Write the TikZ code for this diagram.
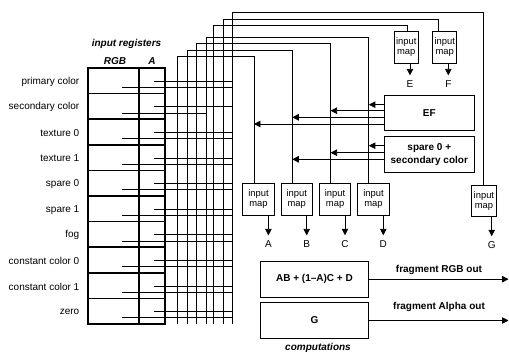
\documentclass[tikz,border=0pt]{standalone}
\usepackage{fontspec}
\setmainfont{Liberation Sans}
\usetikzlibrary{arrows.meta}
\begin{document}
\begin{tikzpicture}[x=1pt,y=-1pt,
  every node/.style={font=\fontsize{10}{11}\selectfont},
  wire/.style={line width=0.8pt},
  regline/.style={line width=1.5pt},
  tip/.style={-{Triangle[length=6.5pt,width=6.5pt]}},
  mapbox/.style={draw,line width=0.9pt,inner sep=0pt,align=center,font=\fontsize{9.4}{10}\selectfont},
  opbox/.style={draw,line width=0.9pt,inner sep=0pt,align=center,font=\bfseries\fontsize{10}{12.5}\selectfont},
  hdr/.style={font=\bfseries\itshape\fontsize{10}{11}\selectfont},
  rowlab/.style={anchor=east,inner sep=0pt},
  iolab/.style={inner sep=0pt},
  outlab/.style={font=\bfseries\fontsize{10}{11}\selectfont}
]
\useasboundingbox (0,0) rectangle (509,352);

% input register table
\draw[regline] (88,68) rectangle (165,324);
\draw[regline] (139,68) -- (139,324);
\foreach \i in {1,...,9} \draw[regline] (88,68+25.6*\i) -- (165,68+25.6*\i);

\node[hdr] (hreg) at (126.5,44) {input registers};
\node[hdr] (hrgb) at (115,61.5) {RGB};
\node[hdr] (ha) at (152,61.5) {A};

\foreach \t [count=\i from 0] in {primary color,secondary color,texture 0,texture 1,spare 0,spare 1,fog,constant color 0,constant color 1,zero}
  \node[rowlab] (r\i) at (79.5,68+25.6*\i+13.8) {\t};

% register wires
\foreach \i/\xe in {0/232.7,1/206.7,2/232.7,3/232.7,4/232.7,5/232.7,6/232.7,7/232.7,8/232.7,9/232.7}{
  \draw[wire] (154,68+25.6*\i+13.2) -- (232.7,68+25.6*\i+13.2);
  \draw[wire] (122,68+25.6*\i+19.4) -- (\xe,68+25.6*\i+19.4);
}

% input map boxes
\node[mapbox,minimum width=31.6pt,minimum height=32.6pt] (mA) at (258.5,199.4) {input\\map};
\node[mapbox,minimum width=31.6pt,minimum height=32.6pt] (mB) at (296.8,199.4) {input\\map};
\node[mapbox,minimum width=31.6pt,minimum height=32.6pt] (mC) at (335.1,199.4) {input\\map};
\node[mapbox,minimum width=31.6pt,minimum height=32.6pt] (mD) at (373.5,199.4) {input\\map};
\node[mapbox,minimum width=24pt,minimum height=31.6pt] (mE) at (406.3,47.5) {input\\map};
\node[mapbox,minimum width=24pt,minimum height=31.6pt] (mF) at (444.7,47.5) {input\\map};
\node[mapbox,minimum width=25.7pt,minimum height=31.7pt] (mG) at (483.9,200.9) {input\\map};

% attach points on box tops
\coordinate (tA) at ([xshift=11.7pt]mA.north west);
\coordinate (tB) at ([xshift=11.7pt]mB.north west);
\coordinate (tC) at ([xshift=11.7pt]mC.north west);
\coordinate (tD) at ([xshift=11.6pt]mD.north west);
\coordinate (tE) at ([xshift=13.4pt]mE.north west);
\coordinate (tF) at ([xshift=6.3pt]mF.north west);
\coordinate (tG) at ([xshift=12.3pt]mG.north west);

% bus lines
\foreach \n/\bx/\ty in {A/177.3/56,B/187.3/50,C/196.7/43.3,D/206.7/37.3,E/213.3/25,F/223.3/19,G/232.7/12.7}
  \draw[wire] (\bx,324) -- (\bx,\ty) -| (t\n);

% output labels of maps
\node[iolab] (lA) at (268.4,244) {A};
\node[iolab] (lB) at (306.7,244) {B};
\node[iolab] (lC) at (345,244) {C};
\node[iolab] (lD) at (383.3,244) {D};
\node[iolab] (lE) at (410,84) {E};
\node[iolab] (lF) at (448.3,84) {F};
\node[iolab] (lG) at (491.7,245) {G};

\foreach \n in {A,B,C,D,E,F,G}
  \draw[wire,tip,shorten >=5pt] (l\n.north |- m\n.south) -- (l\n.north);

% EF and spare boxes
\node[opbox,minimum width=90pt,minimum height=34.3pt] (ef) at (429.3,112.85) {EF};
\node[opbox,minimum width=90pt,minimum height=35.6pt] (sp) at (429.3,154.5) {spare 0 +\\secondary color};

\foreach \y/\n in {104.7/D,110.7/C,117.3/B,124/A}
  \draw[wire,tip] (ef.west |- 0,\y) -- (t\n |- 0,\y);
\foreach \y/\n in {145.7/D,152.7/C,159.3/B}
  \draw[wire,tip] (sp.west |- 0,\y) -- (t\n |- 0,\y);

% computations
\node[opbox,minimum width=107.6pt,minimum height=36.3pt] (c1) at (314.5,279.2) {AB + (1--A)C + D};
\node[opbox,minimum width=107.6pt,minimum height=35.6pt] (c2) at (314.5,320.5) {G};
\coordinate (o1) at (508.5,279.2);
\coordinate (o2) at (508.5,320.5);
\draw[wire,tip] (c1.east) -- (o1);
\draw[wire,tip] (c2.east) -- (o2);
\node[outlab] (lo1) at (439,270) {fragment RGB out};
\node[outlab] (lo2) at (439,306.5) {fragment Alpha out};
\node[hdr] (hcomp) at (318,348) {computations};
\end{tikzpicture}
\end{document}
